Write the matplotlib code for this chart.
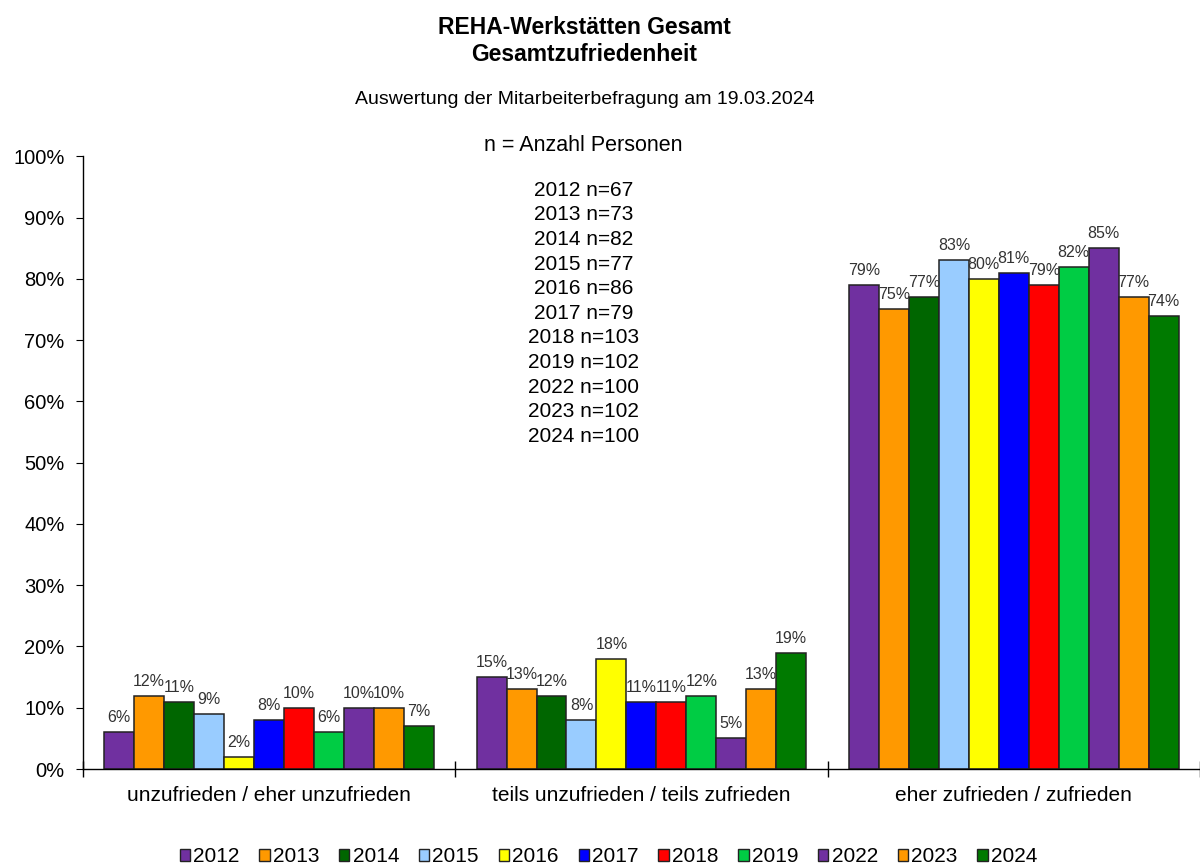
import numpy as np
import matplotlib.pyplot as plt
from matplotlib.ticker import PercentFormatter

plt.rcParams['font.family'] = ['Liberation Sans', 'DejaVu Sans']

categories = ['unzufrieden / eher unzufrieden', 'teils unzufrieden / teils zufrieden', 'eher zufrieden / zufrieden']
years = ['2012', '2013', '2014', '2015', '2016', '2017', '2018', '2019', '2022', '2023', '2024']
n_persons = [67, 73, 82, 77, 86, 79, 103, 102, 100, 102, 100]
values = {
    '2012': [6, 15, 79],
    '2013': [12, 13, 75],
    '2014': [11, 12, 77],
    '2015': [9, 8, 83],
    '2016': [2, 18, 80],
    '2017': [8, 11, 81],
    '2018': [10, 11, 79],
    '2019': [6, 12, 82],
    '2022': [10, 5, 85],
    '2023': [10, 13, 77],
    '2024': [7, 19, 74],
}
colors = ['#7030A0', '#FF9900', '#006600', '#99CCFF', '#FFFF00', '#0000FF',
          '#FF0000', '#00CC44', '#7030A0', '#FF9900', '#007A00']

fig = plt.figure(figsize=(12, 8.68), dpi=100)
ax = fig.add_axes([0.069, 0.114, 0.931, 0.706])

x = np.arange(len(categories))
group_w = 0.885
w = group_w / len(years)
for i, yr in enumerate(years):
    pos = x - group_w / 2 + w * (i + 0.5)
    bars = ax.bar(pos, values[yr], width=w, color=colors[i], edgecolor='#222222',
                  linewidth=1.1, label=yr, zorder=2)
    ax.bar_label(bars, labels=[f'{v}%' for v in values[yr]], padding=5,
                 fontsize=11.5, color='#333333')

ax.set_xlim(-0.5, len(categories) - 0.5)
ax.set_ylim(0, 100)
ax.yaxis.set_major_locator(plt.MultipleLocator(10))
ax.yaxis.set_major_formatter(PercentFormatter(decimals=0))
ax.tick_params(axis='y', direction='out', length=5, labelsize=14.5, colors='black', pad=8)

ax.set_xticks(x)
ax.set_xticklabels(categories, fontsize=15)
ax.tick_params(axis='x', length=0, pad=12)
ax.set_xticks(np.arange(len(categories) + 1) - 0.5, minor=True)
ax.tick_params(axis='x', which='minor', direction='inout', length=12, width=1)

for s in ['top', 'right']:
    ax.spines[s].set_visible(False)
ax.spines['left'].set_linewidth(1)
ax.spines['bottom'].set_linewidth(1)

fig.text(0.487, 0.968, 'REHA-Werkstätten Gesamt', ha='center', va='center', fontsize=16.5, fontweight='bold')
fig.text(0.487, 0.937, 'Gesamtzufriedenheit', ha='center', va='center', fontsize=16.5, fontweight='bold')
fig.text(0.487, 0.885, 'Auswertung der Mitarbeiterbefragung am 19.03.2024', ha='center', va='center', fontsize=14)
fig.text(0.486, 0.832, 'n = Anzahl Personen', ha='center', va='center', fontsize=15.5)
n_lines = '\n'.join(f'{yr} n={n}' for yr, n in zip(years, n_persons))
fig.text(0.486, 0.639, n_lines, ha='center', va='center', fontsize=15, linespacing=1.376)

leg = fig.legend(loc='center', bbox_to_anchor=(0.507, 0.013), ncol=len(years), frameon=False,
                 fontsize=15, handlelength=0.5, handleheight=0.5, handletextpad=0.15,
                 columnspacing=0.95)
for h in leg.legend_handles:
    h.set_linewidth(1)

fig.savefig('out.png', dpi=100, facecolor='white')
